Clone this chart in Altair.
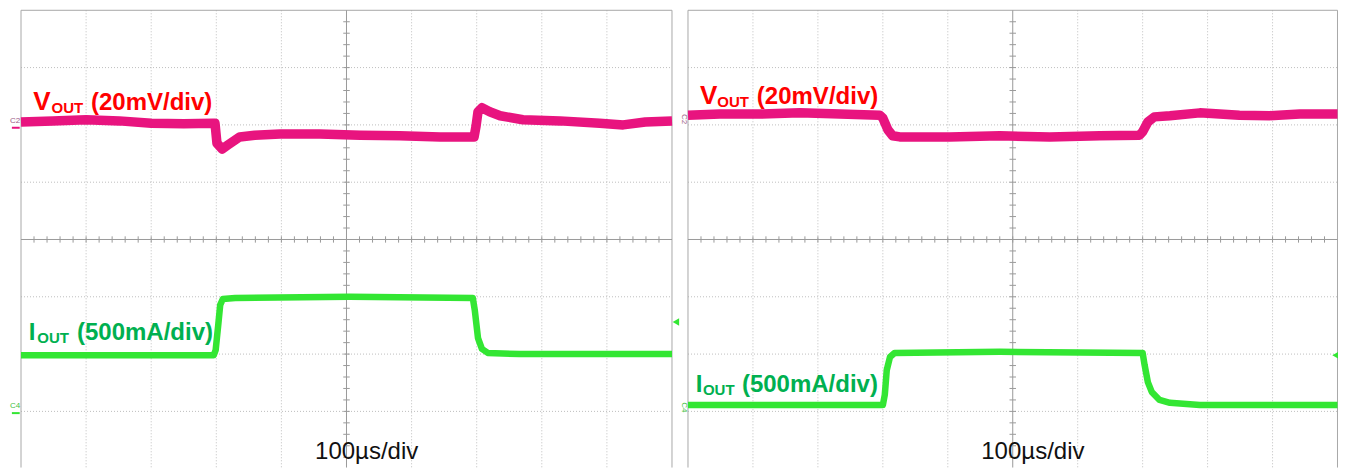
import altair as alt
import pandas as pd

# ---- values -----------------------------------------------------------------
# t: time in screen divisions (100 us/div), v: vertical divisions from screen centre
L_VOUT_T = [0.00, 0.49, 1.00, 1.51, 2.00, 2.50, 2.95, 2.98, 3.01, 3.09, 3.18, 3.36, 3.59, 3.98, 4.59,
            5.21, 5.82, 6.44, 6.96, 6.99, 7.02, 7.08, 7.20, 7.36, 7.71, 8.28, 8.89, 9.25, 9.59, 10.00]
L_VOUT_V = [2.05, 2.07, 2.09, 2.07, 2.03, 2.02, 2.03, 2.03, 1.68, 1.58, 1.65, 1.79, 1.82, 1.84, 1.84,
            1.82, 1.81, 1.79, 1.79, 1.98, 2.23, 2.30, 2.23, 2.16, 2.09, 2.07, 2.03, 2.00, 2.05, 2.07]
L_IOUT_T = [0.00, 2.96, 2.99, 3.03, 3.06, 3.10, 3.29, 5.05, 6.94, 6.97, 7.02, 7.08, 7.17, 7.66, 10.00]
L_IOUT_V = [-2.02, -2.02, -1.93, -1.49, -1.14, -1.04, -1.02, -1.00, -1.02, -1.23, -1.72, -1.91, -1.98, -2.00, -2.00]

R_VOUT_T = [0.00, 0.49, 1.11, 1.72, 2.34, 2.95, 3.00, 3.08, 3.15, 3.26, 4.03, 4.80, 5.57, 6.34, 6.95,
            7.00, 7.08, 7.18, 7.42, 7.88, 8.49, 8.95, 9.42, 10.00]
R_VOUT_V = [2.17, 2.19, 2.19, 2.21, 2.19, 2.17, 2.12, 1.91, 1.81, 1.79, 1.79, 1.81, 1.79, 1.81, 1.82,
            1.88, 2.05, 2.14, 2.16, 2.21, 2.17, 2.16, 2.19, 2.19]
R_IOUT_T = [0.00, 3.00, 3.03, 3.06, 3.11, 3.18, 4.80, 7.00, 7.03, 7.08, 7.14, 7.26, 7.42, 7.88, 10.00]
R_IOUT_V = [-2.89, -2.89, -2.71, -2.28, -2.05, -1.98, -1.96, -1.98, -2.19, -2.49, -2.66, -2.80, -2.85, -2.89, -2.89]

V_LABEL = ["V", "OUT", "(20mV/div)"]
I_LABEL = ["I", "OUT", "(500mA/div)"]
TIME_LABEL = "100µs/div"

# ---- styling ---------------------------------------------------------------
PINK = "#E8147F"
GREEN_TRACE = "#33E633"
RED = "#FF0000"
GREEN_TEXT = "#00B050"
GRID = "#BEBEBE"
BORDER = "#A8A8A8"
CENTER = "#9A9A9A"
FONT = "Liberation Sans"

H = 460
Y_DOM = [-3.988, 4.040]
Y_BOT = -3.98


def panel(vt, vv, it, iv, w, x_dom, lab_pos, c_angle, c_t, c_v2, c_v4, mark_t, mark_v, underline):
    xs = alt.Scale(domain=x_dom, nice=False, zero=False)
    ys = alt.Scale(domain=Y_DOM, nice=False, zero=False)

    def X(f):
        return alt.X(f, scale=xs, axis=None)

    def Y(f):
        return alt.Y(f, scale=ys, axis=None)

    grid_v = alt.Chart(pd.DataFrame({"t": [1, 2, 3, 4, 6, 7, 8, 9], "a": 4.0, "b": Y_BOT})).mark_rule(
        color=GRID, strokeDash=[1, 2], strokeWidth=1, clip=True).encode(x=X("t:Q"), y=Y("a:Q"), y2="b:Q")
    grid_h = alt.Chart(pd.DataFrame({"v": [-3, -2, -1, 1, 2, 3], "a": 0.0, "b": 10.0})).mark_rule(
        color=GRID, strokeDash=[1, 2], strokeWidth=1, clip=True).encode(y=Y("v:Q"), x=X("a:Q"), x2="b:Q")
    border_v = alt.Chart(pd.DataFrame({"t": [0, 10], "a": 4.0, "b": Y_BOT})).mark_rule(
        color=BORDER, strokeWidth=1, clip=True).encode(x=X("t:Q"), y=Y("a:Q"), y2="b:Q")
    border_h = alt.Chart(pd.DataFrame({"v": [4.0], "a": 0.0, "b": 10.0})).mark_rule(
        color=BORDER, strokeWidth=1, clip=True).encode(y=Y("v:Q"), x=X("a:Q"), x2="b:Q")
    center_v = alt.Chart(pd.DataFrame({"t": [5.0], "a": 4.0, "b": Y_BOT})).mark_rule(
        color=CENTER, strokeWidth=1, clip=True).encode(x=X("t:Q"), y=Y("a:Q"), y2="b:Q")
    center_h = alt.Chart(pd.DataFrame({"v": [0.0], "a": 0.0, "b": 10.0})).mark_rule(
        color=CENTER, strokeWidth=1, clip=True).encode(y=Y("v:Q"), x=X("a:Q"), x2="b:Q")
    tick_t = [k / 5 for k in range(1, 50)]
    ticks_h = alt.Chart(pd.DataFrame({"t": tick_t, "a": -0.055, "b": 0.055})).mark_rule(
        color=CENTER, strokeWidth=1, clip=True).encode(x=X("t:Q"), y=Y("a:Q"), y2="b:Q")
    tick_v = [k / 5 for k in range(-19, 20) if k != 0]
    ticks_v = alt.Chart(pd.DataFrame({"v": tick_v, "a": 4.95, "b": 5.05})).mark_rule(
        color=CENTER, strokeWidth=1, clip=True).encode(y=Y("v:Q"), x=X("a:Q"), x2="b:Q")

    vout = alt.Chart(pd.DataFrame({"t": vt, "v": vv})).mark_line(
        color=PINK, strokeWidth=9.5, strokeJoin="round", clip=True).encode(x=X("t:Q"), y=Y("v:Q"))
    iout = alt.Chart(pd.DataFrame({"t": it, "v": iv})).mark_line(
        color=GREEN_TRACE, strokeWidth=6.5, strokeJoin="round", clip=True).encode(x=X("t:Q"), y=Y("v:Q"))

    v_sizes = [26, 15, 24]
    i_sizes = [24, 15, 24]
    rows = []
    for k, txt in enumerate(V_LABEL):
        rows.append({"s": txt, "t": lab_pos["V"][k][0], "v": lab_pos["V"][k][1], "fs": v_sizes[k], "c": RED})
    for k, txt in enumerate(I_LABEL):
        rows.append({"s": txt, "t": lab_pos["I"][k][0], "v": lab_pos["I"][k][1], "fs": i_sizes[k],
                     "c": GREEN_TEXT})
    labels = alt.Chart(pd.DataFrame(rows)).mark_text(
        font=FONT, fontWeight="bold", align="left", baseline="alphabetic", clip=True).encode(
        x=X("t:Q"), y=Y("v:Q"), text="s:N",
        size=alt.Size("fs:Q", scale=None, legend=None),
        color=alt.Color("c:N", scale=None, legend=None))

    tlabel = alt.Chart(pd.DataFrame({"s": [TIME_LABEL], "t": [lab_pos["T"][0]], "v": [lab_pos["T"][1]]})).mark_text(
        font=FONT, fontSize=24, align="center", baseline="alphabetic", color="#111111", clip=True).encode(
        x=X("t:Q"), y=Y("v:Q"), text="s:N")

    clab = alt.Chart(pd.DataFrame({"s": ["C2", "C4"], "t": [c_t, c_t], "v": [c_v2, c_v4],
                                   "c": ["#9C5C86", "#3FBF3F"]})).mark_text(
        font=FONT, fontSize=8, align="center", baseline="middle", angle=c_angle, clip=True).encode(
        x=X("t:Q"), y=Y("v:Q"), text="s:N", color=alt.Color("c:N", scale=None, legend=None))

    trig = alt.Chart(pd.DataFrame({"t": [mark_t], "v": [mark_v]})).mark_point(
        shape="triangle-left", filled=True, size=55, opacity=1, color=GREEN_TRACE, clip=True).encode(
        x=X("t:Q"), y=Y("v:Q"))

    layers = [grid_v, grid_h, border_v, border_h, center_v, center_h, ticks_h, ticks_v,
              vout, iout, labels, tlabel, clab, trig]
    if underline:
        ul = alt.Chart(pd.DataFrame({"a": [-0.14, -0.14], "b": [-0.02, -0.02], "v": [1.95, -3.03],
                                     "c": [PINK, GREEN_TRACE]})).mark_rule(strokeWidth=2, clip=True).encode(
            x=X("a:Q"), x2="b:Q", y=Y("v:Q"), color=alt.Color("c:N", scale=None, legend=None))
        layers.append(ul)
    return alt.layer(*layers).properties(width=w, height=H)


left_pos = {
    "V": [(0.19, 2.26), (0.47, 2.21), (1.075, 2.26)],
    "I": [(0.12, -1.75), (0.25, -1.81), (0.86, -1.75)],
    "T": (5.31, -3.83),
}
right_pos = {
    "V": [(0.185, 2.36), (0.45, 2.31), (1.06, 2.36)],
    "I": [(0.12, -2.66), (0.23, -2.71), (0.83, -2.66)],
    "T": (5.31, -3.83),
}

left = panel(L_VOUT_T, L_VOUT_V, L_IOUT_T, L_IOUT_V, 672, [-0.1997, 10.1229], left_pos,
             0, -0.09, 2.07, -2.91, 10.06, -1.44, True)
right = panel(R_VOUT_T, R_VOUT_V, R_IOUT_T, R_IOUT_V, 658, [-0.12317, 10.0077], right_pos,
              90, -0.06, 2.10, -2.93, 9.97, -2.02, False)

chart = alt.hconcat(left, right, spacing=0, padding=0, background="white").configure_view(strokeWidth=0)

chart.save("out.html", embed_options={"renderer": "svg", "actions": False})
